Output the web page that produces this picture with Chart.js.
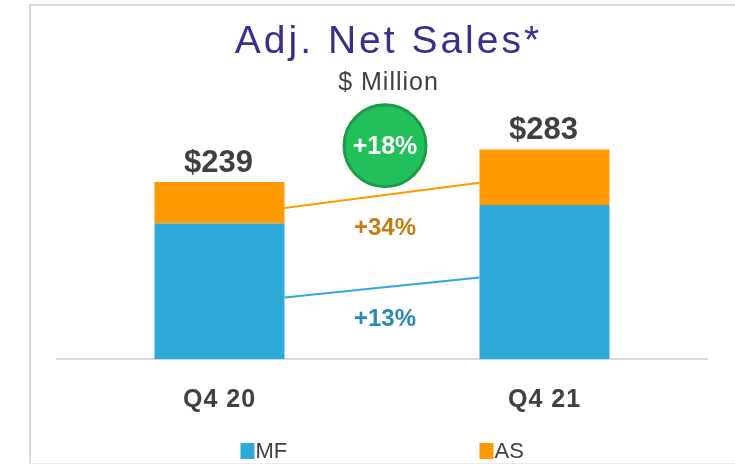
<!DOCTYPE html>
<html>
<head>
<meta charset="utf-8">
<script src="https://cdn.jsdelivr.net/npm/chart.js@4"></script>
<style>
  html, body { margin: 0; padding: 0; background: #fff; }
  #wrap { position: relative; width: 735px; height: 464px; overflow: hidden; }
  #frame { position: absolute; left: 29px; top: 4px; width: 800px; height: 457px; border: 2px solid #dadada; border-bottom: 1px solid #ececec; }
  canvas { position: absolute; left: 0; top: 0; }
</style>
</head>
<body>
<div id="wrap">
  <div id="frame"></div>
  <canvas id="myChart" width="735" height="464"></canvas>
</div>
<script>
var categories = ['Q4 20', 'Q4 21'];
var mfValues = [183, 208];
var asValues = [56, 75];
var seriesNames = ['MF', 'AS'];
var growthLabels = ['+13%', '+34%'];
var totalGrowth = '+18%';
// connector lines between the bars, in $ million (left end, right end)
var mfConnector = [83, 110];
var asConnector = [204, 238];

var blue = '#2eaad8';
var orange = '#ff9a00';
var dark = '#404040';

var overlay = {
    id: 'overlay',
    beforeDraw: function(chart) {
        // a little tracking for title, subtitle and axis labels
        chart.ctx.letterSpacing = '1px';
    },
    beforeDatasetsDraw: function(chart) {
        chart.ctx.letterSpacing = '0px';
    },
    afterDatasetsDraw: function(chart) {
        var ctx = chart.ctx;
        var x = chart.scales.x;
        var y = chart.scales.y;
        var bars = chart.getDatasetMeta(0).data;
        var left = bars[0].x + bars[0].width / 2;
        var right = bars[1].x - bars[1].width / 2;
        var mid = (bars[0].x + bars[1].x) / 2 + 3;
        ctx.save();

        // connectors
        [[mfConnector, blue], [asConnector, orange]].forEach(function(c) {
            ctx.beginPath();
            ctx.strokeStyle = c[1];
            ctx.lineWidth = 2;
            ctx.moveTo(left, y.getPixelForValue(c[0][0]));
            ctx.lineTo(right, y.getPixelForValue(c[0][1]));
            ctx.stroke();
        });

        // totals
        ctx.fillStyle = dark;
        ctx.font = 'bold 31px "Liberation Sans", Arial, sans-serif';
        ctx.textAlign = 'center';
        ctx.textBaseline = 'alphabetic';
        categories.forEach(function(c, i) {
            var total = mfValues[i] + asValues[i];
            ctx.fillText('$' + total, bars[i].x - 1, y.getPixelForValue(total) - 10);
        });

        // growth labels
        ctx.font = 'bold 24px "Liberation Sans", Arial, sans-serif';
        ctx.textBaseline = 'middle';
        ctx.fillStyle = '#c47c10';
        ctx.fillText(growthLabels[1], mid, y.getPixelForValue(176));
        ctx.fillStyle = '#2a8ab2';
        ctx.fillText(growthLabels[0], mid, y.getPixelForValue(54));

        // total growth badge
        var cy = y.getPixelForValue(288);
        ctx.beginPath();
        ctx.arc(mid, cy, 41, 0, Math.PI * 2);
        ctx.fillStyle = '#22c05a';
        ctx.fill();
        ctx.lineWidth = 3;
        ctx.strokeStyle = '#1c9a48';
        ctx.stroke();
        ctx.fillStyle = '#fff';
        ctx.font = 'bold 25px "Liberation Sans", Arial, sans-serif';
        ctx.fillText(totalGrowth, mid, cy + 1);

        // legend
        ctx.font = '22px "Liberation Sans", Arial, sans-serif';
        ctx.textAlign = 'left';
        var lx = [x.getPixelForValue(0) + 21, x.getPixelForValue(1) - 65];
        chart.data.datasets.forEach(function(ds, i) {
            ctx.fillStyle = ds.backgroundColor;
            ctx.fillRect(lx[i], 443, 14, 16);
            ctx.fillStyle = dark;
            ctx.fillText(ds.label, lx[i] + 15, 452);
        });
        ctx.restore();
    }
};

var ctx = document.getElementById('myChart').getContext('2d');
var myChart = new Chart(ctx, {
    type: 'bar',
    data: {
        labels: categories,
        datasets: [{
            label: seriesNames[0],
            data: mfValues,
            backgroundColor: blue,
            borderWidth: 0
        }, {
            label: seriesNames[1],
            data: asValues,
            backgroundColor: orange,
            borderWidth: 0
        }]
    },
    plugins: [overlay],
    options: {
        responsive: false,
        animation: false,
        layout: { padding: { left: 57, right: 15, top: 8, bottom: 31 } },
        categoryPercentage: 0.4,
        barPercentage: 1,
        plugins: {
            legend: { display: false },
            tooltip: { enabled: false },
            title: {
                display: true,
                text: 'Adj. Net Sales*',
                color: '#3b3089',
                font: { family: '"Liberation Sans", Arial, sans-serif', size: 39, weight: 'normal' },
                padding: { top: 11, bottom: 0 }
            },
            subtitle: {
                display: true,
                text: '$ Million',
                color: dark,
                font: { family: '"Liberation Sans", Arial, sans-serif', size: 25, weight: 'normal' },
                padding: { top: 2, bottom: 8 }
            }
        },
        scales: {
            x: {
                stacked: true,
                grid: { display: false },
                border: { display: true, color: '#d9d9d9', width: 2 },
                ticks: {
                    color: dark,
                    padding: 18,
                    font: { family: '"Liberation Sans", Arial, sans-serif', size: 25, weight: 'bold' }
                }
            },
            y: {
                stacked: true,
                position: 'right',
                min: 0,
                max: 342,
                grid: { display: false },
                border: { display: false },
                ticks: { display: false },
                afterFit: function(scale) { scale.width = 13; }
            }
        }
    }
});

// the title is set wider in the original
var titleDraw = myChart.titleBlock.draw;
myChart.titleBlock.draw = function() {
    this.ctx.save();
    this.ctx.letterSpacing = '3px';
    titleDraw.apply(this, arguments);
    this.ctx.restore();
};
myChart.draw();
</script>
</body>
</html>
